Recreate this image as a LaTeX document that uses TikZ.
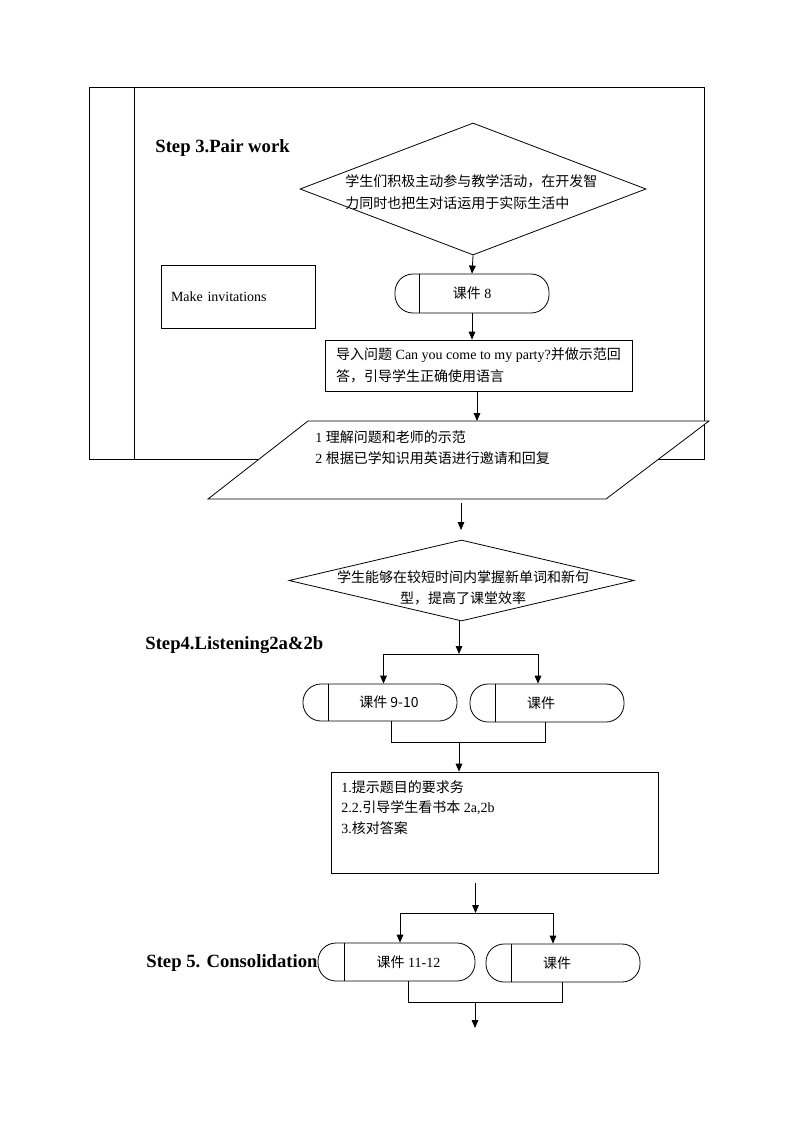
\documentclass[tikz,border=0pt]{standalone}
\usepackage{fontspec}
\setmainfont{Liberation Serif}
\newfontfamily\cjk{Noto Sans CJK SC}
\usetikzlibrary{shapes.geometric,arrows.meta}
\begin{document}
\begin{tikzpicture}[x=0.75pt,y=-0.75pt,
  line width=0.6pt,
  base/.style={font=\fontsize{10.5}{16}\selectfont},
  term/.style={draw, rectangle, rounded corners=13.5pt, minimum width=115.5pt, minimum height=28.5pt, inner sep=0pt, base},
  dia/.style={draw, diamond, inner sep=0pt},
  plainbox/.style={draw, rectangle, inner sep=0pt, base},
  txt/.style={inner sep=0pt, base, align=left},
  steplabel/.style={font=\fontsize{14}{16}\selectfont\bfseries, anchor=west, inner sep=0pt},
  arr/.style={-{Triangle[length=6pt,width=5pt]}}
]
\useasboundingbox (0,0) rectangle (794,1123);

% outer frame
\draw (89,87) rectangle (704,459);
\draw (134,87) -- (134,459);

% step labels
\node[steplabel] (s3) at (155,148) {Step 3.Pair work};
\node[steplabel] (s4) at (145,645) {Step4.Listening2a\&2b};
\node[steplabel] (s5) at (146,963) {Step 5. Consolidation};

% diamond 1
\node[dia, minimum width=259.5pt, minimum height=99pt] (d1) at (473,189) {};
\node[txt, anchor=west] (d1t) at (345,192) {\cjk 学生们积极主动参与教学活动，在开发智\\\cjk 力同时也把生对话运用于实际生活中};

% Make invitations
\node[plainbox, minimum width=115.5pt, minimum height=47.25pt, text width=100.5pt, inner xsep=7.5pt, align=left] (mi) at (238,296.5) {Make invitations};

% terminator 8
\node[term, minimum height=29.25pt] (t8) at (472,293.5) {{\cjk 课件} 8};
\draw ([xshift=18.75pt]t8.north west) -- ([xshift=18.75pt]t8.south west);

% question box
\node[plainbox, minimum width=230.25pt, minimum height=38.25pt, align=left] (q) at (478.5,365.5)
  {{\cjk 导入问题} Can you come to my party?{\cjk 并做示范回}\\{\cjk 答，引导学生正确使用语言}};

% parallelogram
\coordinate (pTL) at (308,421);
\coordinate (pTR) at (709,421);
\coordinate (pBR) at (606,499);
\coordinate (pBL) at (208,499);
\draw[fill=white] (pTL) -- (pTR) -- (pBR) -- (pBL) -- cycle;
\node[txt, anchor=north west] (pt) at (315,430) {1 {\cjk 理解问题和老师的示范}\\2 {\cjk 根据已学知识用英语进行邀请和回复}};

% diamond 2
\node[dia, minimum width=258.75pt, minimum height=60.75pt] (d2) at (461.5,580.5) {};
\node[txt, align=center] (d2t) at (463,587.5) {\cjk 学生能够在较短时间内掌握新单词和新句\\\cjk 型，提高了课堂效率};

% terminators step 4
\node[term, minimum height=27.75pt] (t910) at (380,702.5) {\hspace*{13.5pt}\cjk 课件 9-10};
\draw ([xshift=19.5pt]t910.north west) -- ([xshift=19.5pt]t910.south west);
\node[term] (tA) at (547,703) {{\cjk 课件}\hspace*{9pt}};
\draw ([xshift=19.5pt]tA.north west) -- ([xshift=19.5pt]tA.south west);

% step box
\node[plainbox, minimum width=245.25pt, minimum height=75.75pt] (bx) at (494.5,822.5) {};
\node[txt, anchor=north west, font=\fontsize{10.5}{15.4}\selectfont] (bxt) at (341,780)
  {1.{\cjk 提示题目的要求务}\\2.2.{\cjk 引导学生看书本} 2a,2b\\3.{\cjk 核对答案}};

% terminators step 5
\node[term, minimum width=117.75pt] (t1112) at (396.5,962) {\hspace*{18pt}{\cjk 课件} 11-12};
\draw ([xshift=20.25pt]t1112.north west) -- ([xshift=20.25pt]t1112.south west);
\node[term] (tB) at (563,963) {{\cjk 课件}\hspace*{9pt}};
\draw ([xshift=19.5pt]tB.north west) -- ([xshift=19.5pt]tB.south west);

% connectors
\draw[arr] (d1.south) -- (t8.north);
\draw[arr] (t8.south) -- (t8.south |- q.north);
\coordinate (qo) at (477,391);
\draw[arr] (qo) -- (qo |- pTL);
\coordinate (po) at (461,503);
\coordinate (d2in) at (461,530);
\draw[arr] (po) -- (d2in);

% split after d2
\coordinate (sp1) at (459,654);
\coordinate (sp1L) at (383.5,654);
\coordinate (sp1R) at (538,654);
\draw[arr] (d2.south -| sp1) -- (sp1);
\draw (sp1L) -- (sp1R);
\draw[arr] (sp1L) -- (sp1L |- t910.north);
\draw[arr] (sp1R) -- (sp1R |- tA.north);

% merge after step4
\coordinate (m1L) at (391,742);
\coordinate (m1R) at (545,742);
\coordinate (m1) at (459,742);
\draw (m1L |- t910.south) -- (m1L) -- (m1R) -- (m1R |- tA.south);
\draw[arr] (m1) -- (m1 |- bx.north);

% split after box
\coordinate (sp2s) at (475.5,883);
\coordinate (sp2) at (475.5,913);
\coordinate (sp2L) at (400,913);
\coordinate (sp2R) at (553,913);
\draw[arr] (sp2s) -- (sp2);
\draw (sp2L) -- (sp2R);
\draw[arr] (sp2L) -- (sp2L |- t1112.north);
\draw[arr] (sp2R) -- (sp2R |- tB.north);

% merge after step5
\coordinate (m2L) at (408,1002);
\coordinate (m2R) at (562,1002);
\coordinate (m2) at (475,1002);
\draw (m2L |- t1112.south) -- (m2L) -- (m2R) -- (m2R |- tB.south);
\coordinate (endc) at (475,1028);
\draw[arr] (m2) -- (endc);
\end{tikzpicture}
\end{document}
